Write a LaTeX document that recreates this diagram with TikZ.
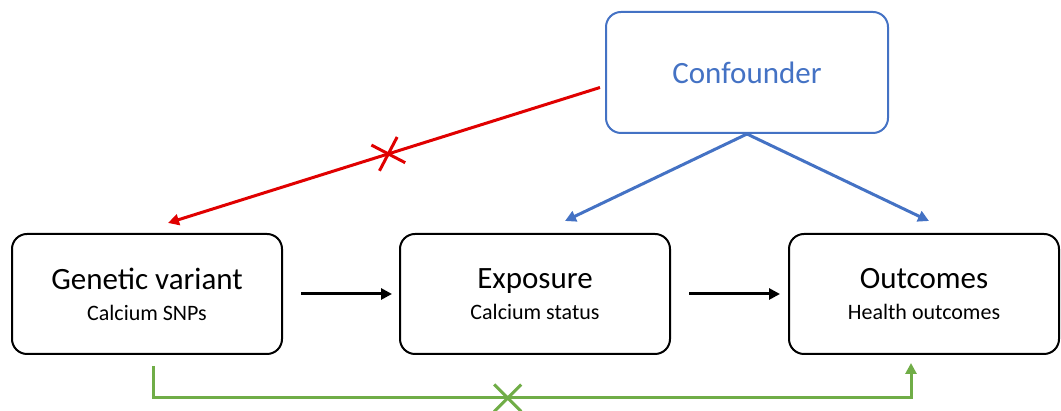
\documentclass[tikz,border=0pt]{standalone}
\usepackage{fontspec}
\setmainfont{Carlito}
\usepackage{tikz}
\usetikzlibrary{arrows.meta, positioning, shapes.misc, calc}

\definecolor{confblue}{RGB}{68,114,196}
\definecolor{crossred}{RGB}{224,0,0}
\definecolor{pathgreen}{RGB}{112,173,71}

\begin{document}
\begin{tikzpicture}[
    x=1pt, y=1pt,
    box/.style={rectangle, draw=black, line width=2pt, rounded corners=15pt, minimum width=270pt, minimum height=120pt, align=center, font=\fontsize{31}{34}\selectfont},
    confbox/.style={box, draw=confblue, text=confblue, minimum width=282pt, minimum height=121pt},
    flow/.style={line width=3pt, -{Triangle[length=11pt,width=11pt]}},
    xmark/.style={cross out, draw, line width=3pt, minimum size=24pt, inner sep=0pt, sloped}
]
\useasboundingbox (0,0) rectangle (1061,411);

% Boxes
\node[box] (gene) at (147,117) {Genetic variant\\[-3pt]{\fontsize{22}{24}\selectfont Calcium SNPs}};
\node[box] (expo) at (535,117) {Exposure\\[-3pt]{\fontsize{22}{24}\selectfont Calcium status}};
\node[box] (outc) at (924,117) {Outcomes\\[-3pt]{\fontsize{22}{24}\selectfont Health outcomes}};
\node[confbox] (conf) at (747,338.5) {Confounder};

% Causal chain
\draw[flow, shorten <=18pt, shorten >=7pt] (gene) -- (expo);
\draw[flow, shorten <=18pt, shorten >=8pt] (expo) -- (outc);

% Confounder paths
\draw[flow, confblue] (conf.south) -- ([xshift=30pt,yshift=12pt]expo.north);
\draw[flow, confblue] (conf.south) -- ([xshift=5pt,yshift=12pt]outc.north);

% Blocked path via confounder
\draw[flow, crossred] ([xshift=-5pt,yshift=-15pt]conf.west) -- node[xmark, crossred, pos=0.49] (redx) {} ([xshift=21pt,yshift=10pt]gene.north);

% Blocked direct path
\draw[flow, pathgreen] ([xshift=6pt,yshift=-11pt]gene.south) -- ++(0pt,-32pt) -| node[xmark, pathgreen, pos=0.234] (greenx) {} ([xshift=-13pt,yshift=-8pt]outc.south);

\end{tikzpicture}
\end{document}
